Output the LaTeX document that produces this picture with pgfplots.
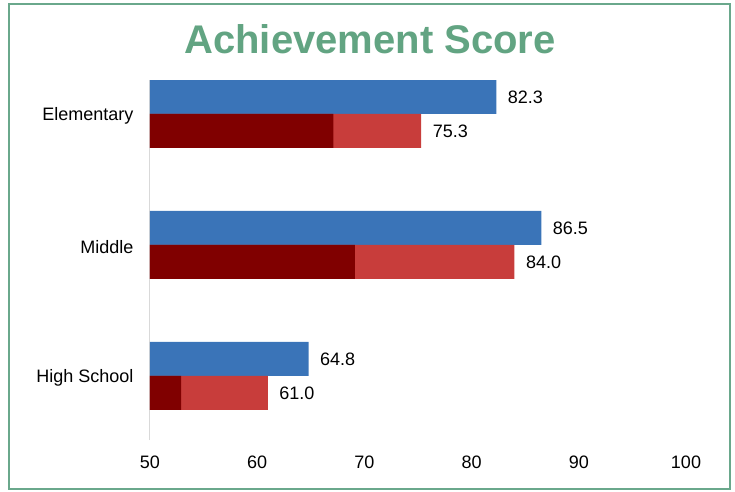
\documentclass[border=0pt]{standalone}
\usepackage{pgfplots}
\pgfplotsset{compat=1.18}
\usepackage{fontspec}
\setmainfont{Liberation Sans}
\definecolor{cblue}{RGB}{58,116,184}
\definecolor{cdark}{RGB}{128,0,0}
\definecolor{cred}{RGB}{200,61,59}
\definecolor{cframe}{RGB}{106,168,140}
\definecolor{ctitle}{RGB}{98,164,130}
\begin{document}
\begin{tikzpicture}[x=1pt,y=1pt]
\path (-150,-51) rectangle (585,440);
\draw[cframe,line width=2pt] (-141,-49) rectangle (580,436);
\node[anchor=base,text=ctitle,font=\fontsize{40}{46}\selectfont\bfseries] at (220,386) {Achievement Score};
\begin{axis}[
  at={(0,0)}, anchor=south west,
  scale only axis, width=536pt, height=360pt,
  xbar, bar width=34pt,
  xmin=50, xmax=100, ymin=-0.489, ymax=2.2595,
  xtick={50,60,70,80,90,100},
  ytick={0,1,2}, yticklabels={High School,Middle,Elementary},
  major tick length=0pt,
  axis x line*=bottom, axis y line*=left,
  x axis line style={draw=none},
  y axis line style={draw=black!15, line width=1pt},
  separate axis lines,
  tick label style={font=\fontsize{18}{21}\selectfont},
  xticklabel style={yshift=-12pt},
  yticklabel style={xshift=-13pt, yshift=-2pt},
  /pgf/number format/assume math mode=true,
  nodes near coords style={font=\fontsize{18}{21}\selectfont, anchor=west, xshift=8pt, yshift=-0.5pt, text=black},
]
\addplot[fill=cblue, draw=none, bar shift=17pt, nodes near coords={\pgfmathprintnumber[fixed,fixed zerofill,precision=1,assume math mode=true]{\pgfplotspointmeta}}] coordinates {(82.3,2) (86.5,1) (64.8,0)};
\addplot[fill=cred, draw=none, bar shift=-17pt, nodes near coords={\pgfmathprintnumber[fixed,fixed zerofill,precision=1,assume math mode=true]{\pgfplotspointmeta}}] coordinates {(75.3,2) (84.0,1) (61.0,0)};
\addplot[fill=cdark, draw=none, bar shift=-17pt] coordinates {(67.1,2) (69.1,1) (52.9,0)};
\end{axis}
\end{tikzpicture}
\end{document}
